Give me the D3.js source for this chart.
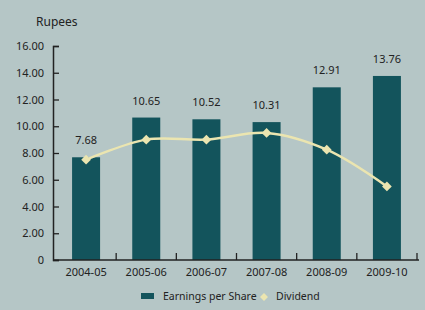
<!DOCTYPE html>
<html>
<head>
<meta charset="utf-8">
<script src="https://cdn.jsdelivr.net/npm/d3@7"></script>
<style>
  body { margin: 0; background: #b5c6c6; }
  text { font-family: "Noto Sans", "Open Sans", sans-serif; fill: #222; }
</style>
</head>
<body>
<div id="chart"></div>
<script>
const years = ["2004-05", "2005-06", "2006-07", "2007-08", "2008-09", "2009-10"];
const eps = [7.68, 10.65, 10.52, 10.31, 12.91, 13.76];
const dividend = [7.5, 9.0, 9.0, 9.5, 8.25, 5.5];
const yTicks = [0, 2, 4, 6, 8, 10, 12, 14, 16];

const width = 425, height = 310;
const barColor = "#13545c", lineColor = "#ebe5b0";

const svg = d3.select("#chart")
    .append("svg")
    .attr("width", width)
    .attr("height", height);

svg.append("rect").attr("width", width).attr("height", height).attr("fill", "#b5c6c6");

const x = d3.scaleBand().domain(years).range([56, 417]);
const y = d3.scaleLinear().domain([0, 16]).range([260, 46]);
const barW = 28;

// y axis
const yAxis = svg.append("g").attr("transform", "translate(53,0)")
    .call(d3.axisRight(y).tickValues(yTicks).tickSize(6)
        .tickFormat(d => d === 0 ? "0" : d3.format(".2f")(d)));
yAxis.select(".domain").attr("stroke", "#222").attr("stroke-width", 1.5);
yAxis.selectAll(".tick line").attr("stroke", "#222").attr("stroke-width", 1.3);
yAxis.selectAll(".tick text").attr("x", -9).attr("text-anchor", "end")
    .attr("font-size", 11).attr("fill", "#222");

// bars
svg.selectAll(".bar")
    .data(eps)
    .join("rect")
    .attr("x", (d, i) => x(years[i]) + x.bandwidth() / 2 - barW / 2)
    .attr("y", d => y(d))
    .attr("width", barW)
    .attr("height", d => y(0) - y(d))
    .attr("fill", barColor);

svg.selectAll(".val")
    .data(eps)
    .join("text")
    .attr("x", (d, i) => x(years[i]) + x.bandwidth() / 2)
    .attr("y", d => y(d) - 13)
    .attr("text-anchor", "middle")
    .attr("font-size", 11)
    .text(d => d3.format(".2f")(d));

// x axis
const xAxis = svg.append("g");
xAxis.append("line").attr("x1", 53).attr("x2", 419).attr("y1", 260).attr("y2", 260)
    .attr("stroke", "#222").attr("stroke-width", 1.5);
xAxis.selectAll(".xt")
    .data(years)
    .join("line")
    .attr("x1", d => x(d) + x.bandwidth())
    .attr("x2", d => x(d) + x.bandwidth())
    .attr("y1", 260).attr("y2", 253)
    .attr("stroke", "#222").attr("stroke-width", 1.3);
xAxis.selectAll(".xl")
    .data(years)
    .join("text")
    .attr("x", d => x(d) + x.bandwidth() / 2)
    .attr("y", 276)
    .attr("text-anchor", "middle")
    .attr("font-size", 11)
    .text(d => d);

// dividend line
const line = d3.line()
    .x((d, i) => x(years[i]) + x.bandwidth() / 2)
    .y(d => y(d))
    .curve(d3.curveCatmullRom);
svg.append("path").datum(dividend)
    .attr("d", line)
    .attr("fill", "none")
    .attr("stroke", lineColor)
    .attr("stroke-width", 2.5);

const diamond = d3.symbol().type(d3.symbolDiamond2).size(60);
svg.selectAll(".dot")
    .data(dividend)
    .join("path")
    .attr("d", diamond)
    .attr("transform", (d, i) => `translate(${x(years[i]) + x.bandwidth() / 2},${y(d)})`)
    .attr("fill", lineColor);

svg.append("text").attr("x", 36).attr("y", 26).attr("font-size", 12).text("Rupees");

// legend
svg.append("rect").attr("x", 141).attr("y", 293).attr("width", 13).attr("height", 6).attr("fill", barColor);
svg.append("text").attr("x", 163).attr("y", 300).attr("font-size", 10.5).text("Earnings per Share");
svg.append("path").attr("d", d3.symbol().type(d3.symbolDiamond2).size(40))
    .attr("transform", "translate(264,297)").attr("fill", lineColor);
svg.append("text").attr("x", 276).attr("y", 300).attr("font-size", 10.5).text("Dividend");
</script>
</body>
</html>
